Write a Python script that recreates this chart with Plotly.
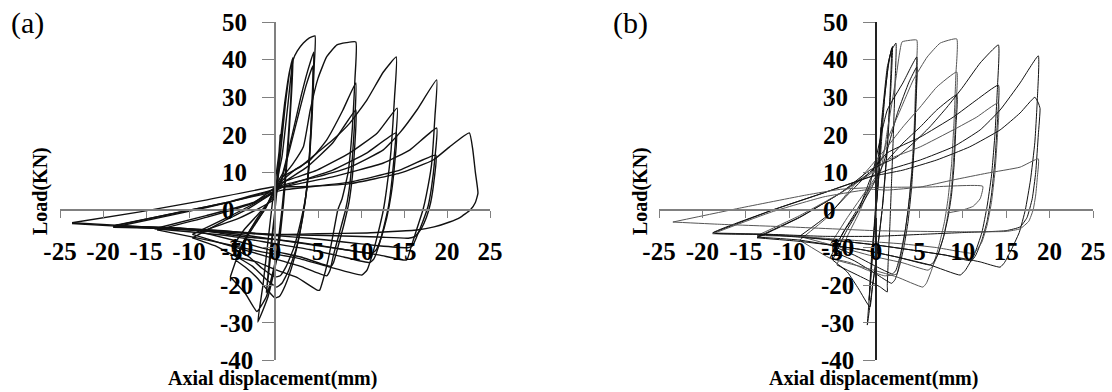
import plotly.graph_objects as go

# ---------------- data: panel (a) hysteresis cycles (displacement mm, load kN) ----------------
a_c1 = [(0, 0), (0.3, 9), (0.6, 20), (0.4, 10), (0, 0), (-0.5, -12), (-1.0, -22), (-0.6, -12), (0, 0),
        (0.6, 14), (1.2, 28), (1.8, 38), (2.1, 40.5), (1.9, 30), (1.5, 16), (1.0, 2), (0.3, -12),
        (-0.8, -23), (-2.0, -29.8), (-1.4, -20), (-0.8, -8), (-0.3, 2), (0.4, 14), (1.1, 28),
        (1.7, 37), (2.0, 39.5), (1.8, 28), (1.3, 12), (0.8, 0), (0, -14), (-1.0, -23),
        (-2.1, -27), (-3.5, -22), (-5.2, -17.8)]
a_c2 = [(-5.2, -17.8), (-4.0, -10), (-2.9, -5.3), (-1.2, 0), (0, 6), (0.8, 14), (1.5, 28), (2.1, 39.9),
        (2.6, 42.3), (3.3, 44.4), (4.0, 45.8), (4.65, 46.3), (4.55, 38), (4.3, 24), (3.9, 10), (3.5, 2),
        (2.9, -6), (2.1, -14), (1.2, -20), (0.5, -23), (0.0, -23.4), (-0.8, -21.5), (-2.1, -18),
        (-3.3, -15.5), (-4.6, -13.3)]
a_c3 = [(-4.6, -13.3), (-3.5, -8), (-2.3, -3), (-0.8, 2), (0.2, 7), (0.9, 9.8), (2.0, 20), (3.0, 30),
        (3.8, 37), (4.5, 42), (4.4, 32), (4.1, 18), (3.7, 6), (3.2, -2), (2.5, -10), (1.6, -16),
        (0.8, -19.5), (0.2, -20.5), (-1.0, -18.5), (-2.6, -15), (-4.4, -12.5)]
a_c4 = [(-4.4, -12.5), (-3.2, -7), (-1.8, -2), (-0.5, 3), (0.5, 7.5), (0.8, 8.5), (1.8, 17), (2.8, 26),
        (3.6, 33), (4.4, 38.3), (4.3, 28), (4.0, 14), (3.6, 4), (3.0, -3), (2.2, -10), (1.3, -15),
        (0.6, -17.5), (0.0, -17.8), (-1.5, -15.5), (-3.0, -12.5), (-5.0, -10)]
a_c5 = [(-5.0, -10), (-3.5, -5), (-1.5, 0), (0, 4), (0.9, 8.8), (2, 12), (3.3, 16.8), (4.1, 26.6),
        (5, 35), (6, 40.7), (7.2, 43.9), (8.3, 44.5), (9.4, 44.7), (9.3, 35), (9.0, 22), (8.5, 10),
        (7.8, 3), (7.3, 0), (6.8, -6), (6.2, -13), (5.6, -18.5), (5.2, -21.3), (4.9, -21.3),
        (2.6, -18), (0.2, -16), (-2.1, -13.8), (-4.4, -12.5), (-7, -9.5), (-9.6, -7.4)]
a_c6 = [(-9.6, -7.4), (-6, -3), (-3, 0.5), (0, 5), (0.9, 8), (2.5, 11), (4.1, 13.3), (6, 18.6),
        (7.9, 26.6), (9.4, 33.8), (9.3, 25), (9.0, 14), (8.6, 5), (8.2, 0), (7.5, -6), (6.8, -12),
        (6.4, -16), (6.0, -17.5), (3, -15), (0, -13), (-3, -11), (-6, -9), (-9.6, -6.5)]
a_c7 = [(-9.6, -6.5), (-6, -2.5), (-3, 1), (0, 5), (0.9, 7.2), (3.7, 11.4), (6.7, 17.8), (9.4, 26.6),
        (9.3, 18), (9.0, 9), (8.6, 2), (8.0, -4), (7.3, -10), (6.8, -14), (6.5, -15), (3, -12.5),
        (0, -11), (-4, -8.5), (-8.7, -5.8)]
a_c8 = [(-8.7, -5.8), (-4.1, -2.1), (-0.2, 2.7), (0.9, 8.8), (2.9, 11.4), (4.9, 15.2), (6.7, 18.6),
        (8.7, 23.1), (10.7, 29.3), (12.6, 36.7), (14.1, 40.7), (13.9, 30), (13.5, 16), (13.0, 6),
        (12.6, 0), (12.0, -6), (11.3, -12), (10.7, -16), (10.1, -17.3), (6.4, -15.2), (2.6, -12.8),
        (-1.4, -11.2), (-5.2, -9.3), (-9.1, -7.4), (-13.7, -5.3)]
a_c9 = [(-13.7, -5.3), (-7.9, -1.9), (-2.5, 1.9), (0.9, 7.4), (4.9, 10.6), (8.7, 15.2), (11.9, 20.5),
        (14.2, 27.1), (14.0, 18), (13.6, 8), (13.2, 1), (12.6, -5), (12.0, -10), (11.5, -13),
        (11, -14), (8, -12.5), (4, -10.5), (0, -9), (-5, -7), (-10, -5.8), (-14, -5.0)]
a_c10 = [(-14, -5.0), (-8, -1.5), (-2.5, 2), (0.9, 6.1), (6.7, 10.6), (10.7, 15.2), (14.1, 20.5),
         (13.9, 12), (13.5, 4), (13.0, -2), (12.4, -7), (11.8, -10.5), (11.3, -11.5), (8, -10.5),
         (4, -9), (0, -7.8), (-6, -6), (-12, -5.0), (-18.8, -4.6)]
a_c11 = [(-18.8, -4.6), (-11.9, -1.3), (-5.6, 1.9), (-0.2, 5.3), (0.9, 6.6), (4.9, 8.8), (8.7, 11.4),
         (12.6, 16), (14.5, 20.5), (16.5, 26.6), (18.8, 34.6), (18.6, 25), (18.2, 12), (17.6, 4),
         (17.2, 0), (16.5, -5), (15.8, -10), (15.3, -13.3), (12.2, -12), (8.3, -10.6), (4.4, -9.3),
         (0.6, -8), (-3.3, -7.2), (-7.2, -5.9), (-11, -4.8), (-15, -4.5), (-18.8, -4.3)]
a_c12 = [(-18.8, -4.3), (-12, -1), (-5.6, 2), (0.9, 6.1), (6.7, 8.8), (12.6, 12.5), (15.7, 16),
         (18.8, 21.8), (18.6, 14), (18.2, 6), (17.8, 1), (17.2, -3), (16.5, -7), (16, -9.5),
         (15.5, -10), (12, -9.5), (8, -8.5), (4, -7.5), (0, -6.8), (-6, -5.5), (-12, -4.8),
         (-18.8, -4.2)]
a_c13 = [(-18.8, -4.2), (-11.9, -1), (-5.6, 2), (0.9, 5.3), (8.7, 7.4), (14.5, 10.6), (18.7, 14.6),
         (18.5, 8), (18.1, 2), (17.6, -2), (17, -5), (16.3, -7), (15.5, -7.5), (12, -7.2), (6, -6.8),
         (0, -6.5), (-8, -5.3), (-15, -4.5), (-23.6, -3.4)]
a_c14 = [(-23.6, -3.4), (-15.7, -0.5), (-7.9, 2.7), (-0.2, 6.1), (2.9, 6.2), (8.7, 7), (14.5, 9.8),
         (18.4, 13.3), (20.3, 16.8), (22.6, 20.5), (23.0, 16), (23.3, 10), (23.6, 4.5), (23.3, 2),
         (22.7, 0), (21.5, -2), (20.3, -3.2), (18.5, -4.5), (16.5, -5.3), (10.7, -6.1), (5, -6.3),
         (0, -6.5), (-5, -6), (-11, -5.2), (-17, -4.5), (-23.6, -3.6)]

# ---------------- data: panel (b) hysteresis cycles ----------------
b_c1 = [(0, 0), (0.3, 10), (0.6, 22), (0.35, 10), (0, 0), (-0.4, -12), (-0.8, -24), (-0.5, -12), (0, 0),
        (0.5, 14), (1.0, 30), (1.5, 40), (1.9, 43.5), (1.7, 32), (1.3, 16), (0.8, 2), (0.2, -10),
        (-0.5, -22), (-1.0, -30.6), (-0.6, -18), (-0.2, -4), (0.2, 10), (0.8, 26), (1.4, 38),
        (1.8, 43), (1.6, 30), (1.2, 14), (0.7, 0), (0.1, -12), (-0.4, -20), (-0.7, -25.8),
        (-2, -21), (-3.3, -16.5), (-5, -13.3)]
b_c2 = [(-5, -13.3), (-3.5, -6), (-2, 0), (-0.7, 8), (0.1, 11.4), (0.7, 25), (1.3, 38), (1.8, 42.5),
        (2.3, 44.4), (2.2, 34), (2.0, 20), (1.8, 8), (1.6, -4), (1.4, -14), (1.3, -20), (1.3, -21.8),
        (0.5, -20.5), (-1, -18.6), (-3.3, -16), (-4.5, -14.6)]
b_c3 = [(-4.5, -14.6), (-3.3, -7), (-2, -1), (-0.7, 6), (0.5, 10), (1.3, 21), (2.3, 35), (3.0, 44.7),
        (3.8, 45.1), (4.7, 45.2), (4.6, 36), (4.4, 22), (4.1, 10), (3.7, 0), (3.2, -8), (2.7, -14),
        (2.4, -17), (1.0, -17.5), (-1, -16), (-3, -14), (-5.3, -12.8)]
b_c4 = [(-5.3, -12.8), (-3.8, -6), (-2.2, 0), (-0.8, 6), (1.3, 26.6), (3.1, 33.8), (4.7, 40.7),
        (4.6, 30), (4.4, 17), (4.1, 6), (3.7, -3), (3.2, -10), (2.7, -15), (2.2, -18.5), (1.8, -19.5),
        (0, -17), (-2.5, -13.5), (-5, -11)]
b_c5 = [(-5, -11), (-3.5, -5), (-2, 0), (-0.5, 6), (0.8, 12), (2.5, 26), (3.8, 34), (4.7, 38),
        (4.6, 28), (4.3, 14), (3.9, 4), (3.4, -5), (2.8, -12), (2.3, -16), (1.9, -17), (0, -15),
        (-2.5, -12), (-5.3, -9.3)]
b_c6 = [(-5.3, -9.3), (-3.3, -2), (-1.5, 4), (0, 9), (1.3, 18.6), (2.8, 26.6), (4.3, 34.6), (5.9, 40.7),
        (7.4, 44.4), (9.3, 45.5), (9.2, 36), (9.0, 24), (8.7, 12), (8.3, 3), (7.9, -3), (7.2, -10),
        (6.4, -16), (5.8, -19.5), (5.4, -20.5), (2.4, -17.8), (-1.5, -15.2), (-5.3, -12.8), (-8.8, -8)]
b_c7 = [(-8.8, -8), (-5.6, -1.9), (-3.3, 4.5), (-0.7, 11.4), (1.3, 16.8), (3.1, 22.1), (5.1, 27.4),
        (7, 32.7), (9.3, 36.7), (9.2, 27), (9.0, 16), (8.7, 6), (8.3, -1), (7.8, -7), (7.1, -12),
        (6.5, -15), (6.0, -16), (3, -14), (0, -12.5), (-4, -10), (-8.8, -7)]
b_c8 = [(-8.8, -7), (-5.6, -1.5), (-3.3, 4), (-0.7, 10), (1.3, 13.3), (3.1, 17.8), (5.1, 22.1),
        (7, 26.6), (9.3, 30.6), (9.2, 22), (9.0, 12), (8.7, 4), (8.3, -2), (7.8, -7), (7.2, -11.5),
        (6.6, -14), (6.2, -14.6), (2.4, -12.5), (-1.5, -10.6), (-5.3, -9.3), (-8.8, -8), (-13.7, -7.2)]
b_c9 = [(-13.7, -7.2), (-8.8, -1.9), (-4.1, 4.5), (-0.7, 10.6), (2.4, 14.1), (4.3, 17.8), (6.2, 22.1),
        (8.2, 27.4), (10, 32.7), (12, 39.1), (14.1, 43.9), (14.0, 33), (13.7, 20), (13.3, 9),
        (12.8, 1), (12.2, -6), (11.3, -12), (10.3, -16), (9.7, -17.3), (6.2, -14.6), (2.4, -12.5),
        (-1.5, -10.6), (-5.3, -9.3), (-9, -8.3), (-13.7, -7.4)]
b_c10 = [(-13.7, -7.4), (-8.8, -2), (-4.1, 4.5), (-0.7, 10), (1.3, 15.2), (5.1, 19.4), (8.9, 24.7),
         (11.6, 29.3), (14.1, 33.2), (14.0, 24), (13.7, 13), (13.3, 4), (12.8, -3), (12.2, -8),
         (11.5, -12), (11, -13.5), (8, -12), (4, -10.6), (0, -9.3), (-5, -8), (-9, -7), (-13.7, -6.8)]
b_c11 = [(-13.7, -6.8), (-8.8, -1.5), (-4.1, 4.5), (-0.7, 9.5), (1.3, 13.3), (5.1, 16.8), (8.9, 21.3),
         (11.6, 24.7), (14.1, 28.5), (14.0, 20), (13.7, 10), (13.3, 2), (12.8, -4), (12.2, -8.5),
         (11.5, -11), (11, -11.5), (7, -10), (3, -9), (0, -8.5), (-6, -7.5), (-12, -6.5), (-18.8, -6.1)]
b_c12 = [(-18.8, -6.1), (-11.9, 0), (-6.1, 4.5), (-0.7, 8.8), (1.3, 10.6), (5.1, 13.3), (8.9, 16.8),
         (12, 21.3), (14.3, 26.6), (16.6, 33.8), (18.7, 41), (18.6, 30), (18.3, 18), (17.8, 8),
         (17.2, 0), (16.5, -6), (15.5, -11), (14.8, -14), (14.3, -15.2), (12, -13.8), (8, -12),
         (4, -10.6), (0, -9.3), (-5, -8), (-9, -7.2), (-13, -6.5), (-18.8, -6.1)]
b_c13 = [(-18.8, -6.1), (-11.9, 0), (-6.1, 4.5), (-0.7, 8.8), (3.1, 10.6), (7, 13.3), (10.8, 16.8),
         (14.3, 21.3), (16.6, 25.8), (18.3, 30), (18.7, 28.5), (18.9, 27), (18.7, 20), (18.4, 10),
         (18.0, 3), (17.4, -2), (16.6, -4.5), (15, -5.5), (10, -6), (5, -6.5), (0, -7), (-6, -7),
         (-12, -6.5), (-18.8, -6.3)]
b_c14 = [(-18.8, -6.3), (-12, -0.5), (-6, 3.5), (-0.7, 5.5), (1.3, 5.3), (5.1, 6.1), (8.9, 8),
         (12.8, 9.8), (16.6, 11.4), (18.7, 13.6), (18.6, 9), (18.4, 4), (18.1, 0), (17.6, -3),
         (16.6, -5), (15, -5.7), (10, -5.8), (0, -5.5), (-10, -4.5), (-18, -3.8), (-23.4, -3.2)]
b_c15 = [(-23.4, -3.2), (-15.7, 0.5), (-8, 4), (-4.1, 5.5), (0, 6), (6, 6.1), (12.3, 6.3), (12.0, 3),
         (11.2, 1), (10, 0), (8.2, -0.8)]

a_cycles = [a_c1, a_c2, a_c3, a_c4, a_c5, a_c6, a_c7, a_c8, a_c9, a_c10, a_c11, a_c12, a_c13, a_c14]
b_cycles = [b_c1, b_c2, b_c3, b_c4, b_c5, b_c6, b_c7, b_c8, b_c9, b_c10, b_c11, b_c12, b_c13, b_c14, b_c15]
b_colors = ["#111", "#111", "#555", "#111", "#111", "#555", "#555", "#111", "#111", "#111",
            "#555", "#111", "#111", "#555", "#555"]

x_ticks = [-25, -20, -15, -10, -5, 0, 5, 10, 15, 20, 25]
y_ticks = [-40, -30, -20, -10, 0, 10, 20, 30, 40, 50]
y_ticktext = ["-40", "-30", "-20", "-10", "0\u00a0\u00a0\u00a0", "10\u00a0", "20\u00a0", "30\u00a0",
              "40\u00a0", "50\u00a0"]

W, H = 1112, 392
fig = go.Figure()

for pts in a_cycles:
    fig.add_trace(go.Scatter(x=[p[0] for p in pts], y=[p[1] for p in pts], mode="lines",
                             line=dict(color="#111", width=1.4, shape="spline", smoothing=0.4),
                             xaxis="x", yaxis="y", showlegend=False, hoverinfo="skip"))
for pts, c in zip(b_cycles, b_colors):
    fig.add_trace(go.Scatter(x=[p[0] for p in pts], y=[p[1] for p in pts], mode="lines",
                             line=dict(color=c, width=1.0, shape="spline", smoothing=0.4),
                             xaxis="x2", yaxis="y2", showlegend=False, hoverinfo="skip"))

tick_font = dict(family="Liberation Serif", size=25, color="black", weight="bold")
y_dom = [31.6 / H, 370 / H]
x0_pos = 182 / H

def xaxis(dom):
    return dict(domain=dom, range=[-25, 25], anchor="free", position=x0_pos, side="bottom",
                showline=True, linecolor="#808080", linewidth=1.5, ticks="outside", ticklen=7,
                tickcolor="#808080", tickwidth=1.2, tickvals=x_ticks, ticktext=[str(v) for v in x_ticks],
                tickfont=tick_font, ticklabelstandoff=12, showgrid=False, zeroline=False,
                automargin=False)

def yaxis(pos, color):
    return dict(domain=y_dom, range=[-40, 50], anchor="free", position=pos, side="left",
                showline=True, linecolor=color, linewidth=1.5, ticks="outside", ticklen=12,
                tickcolor="#808080", tickwidth=1.2, tickvals=y_ticks, ticktext=y_ticktext,
                tickfont=tick_font, ticklabelstandoff=4, showgrid=False, zeroline=False,
                automargin=False)

fig.update_layout(
    width=W, height=H, margin=dict(l=0, r=0, t=0, b=0, autoexpand=False),
    paper_bgcolor="white", plot_bgcolor="rgba(0,0,0,0)",
    xaxis=xaxis([60 / W, 490 / W]), yaxis=yaxis(275 / W, "#808080"),
    xaxis2=xaxis([659 / W, 1093 / W]), yaxis2=yaxis(876 / W, "#222"),
)

ann_font = dict(family="Liberation Serif", size=20, color="black", weight="bold")
paren_font = dict(family="Liberation Serif", size=30, color="black")
anns = [
    dict(text="(a)", x=27 / W, y=1 - 23 / H, font=paren_font),
    dict(text="(b)", x=630 / W, y=1 - 23 / H, font=paren_font),
    dict(text="Load(KN)", x=40 / W, y=1 - 191 / H, textangle=-90, font=ann_font),
    dict(text="Load(KN)", x=640 / W, y=1 - 191 / H, textangle=-90, font=ann_font),
    dict(text="Axial displacement(mm)", x=272 / W, y=1 - 378 / H, font=ann_font),
    dict(text="Axial displacement(mm)", x=873 / W, y=1 - 378 / H, font=ann_font),
]
for a in anns:
    fig.add_annotation(xref="paper", yref="paper", xanchor="center", yanchor="middle",
                       showarrow=False, **a)

fig.write_html("out.html")
